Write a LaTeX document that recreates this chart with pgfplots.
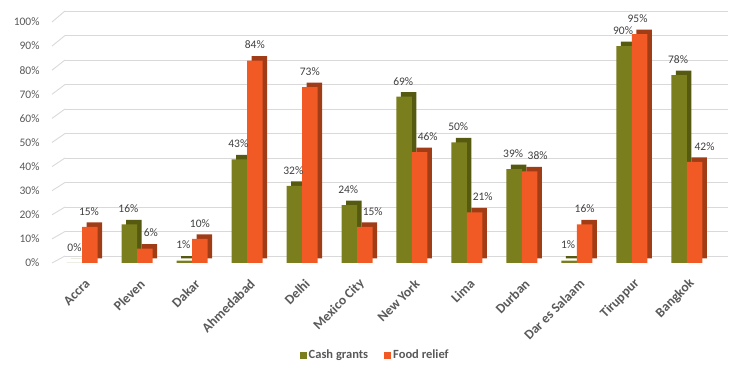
\documentclass[border=0pt]{standalone}
\usepackage{pgfplots}
\pgfplotsset{compat=1.18}
\usepackage{pgfplotstable}
\usepackage{fontspec}
\setmainfont{Carlito}
\definecolor{cgreen}{HTML}{7B7E1D}
\definecolor{cgreenD}{HTML}{565A10}
\definecolor{corange}{HTML}{F15A24}
\definecolor{corangeD}{HTML}{A03C16}
\definecolor{gridc}{HTML}{D9D9D9}
\definecolor{txt}{HTML}{595959}
\definecolor{lbl}{HTML}{404040}
\pgfplotstableread{
x cash food dxc dxf
0 0 15 0 -1
1 16 6 -1 6
2 1 10 -1 0
3 43 84 -1 0
4 32 73 -1 0
5 24 15 -1 8
6 69 46 -1 8
7 50 21 -1 8
8 39 38 -1 8
9 1 16 -1 0
10 90 95 -1 -2
11 78 42 -1 10
}\datatable
\begin{document}
\begin{tikzpicture}[x=1pt,y=1pt]
\useasboundingbox (0,0) rectangle (734,379);
% back grid
\begin{axis}[
  at={(65pt,123pt)}, anchor=south west,
  scale only axis, width=663pt, height=245pt,
  xmin=0, xmax=1, ymin=0, ymax=100,
  ytick={0,10,...,100}, xtick=\empty,
  yticklabels={}, major tick length=0pt,
  ymajorgrids, grid style={gridc, line width=0.9pt},
  axis line style={draw=none},
]
\addplot[draw=none] coordinates {(0,0)};
\end{axis}
\foreach \v in {0,...,10} {
  \draw[gridc, line width=0.9pt] (52,{116+2.41*\v*10}) -- (65,{123+2.45*\v*10});
}
% bars
\begin{axis}[
  at={(52pt,116pt)}, anchor=south west,
  scale only axis, width=665pt, height=241pt,
  xmin=-0.55, xmax=11.55, ymin=0, ymax=100,
  clip=false,
  ybar, bar width=15.5pt,
  axis line style={draw=none},
  major tick length=0pt,
  ytick={0,10,...,100},
  yticklabel={\pgfmathprintnumber{\tick}\%},
  /pgf/number format/assume math mode=true,
  yticklabel style={font=\fontsize{11.5}{13}\selectfont, text=txt, xshift=-9pt},
  xtick=data,
  xticklabels={Accra,Pleven,Dakar,Ahmedabad,Delhi,Mexico City,New York,Lima,Durban,Dar es Salaam,Tiruppur,Bangkok},
  xticklabel style={font=\fontsize{13.5}{15}\selectfont\bfseries, text=txt, rotate=45, anchor=east, yshift=-17pt, xshift=-6pt},
  every node near coord/.append style={font=\fontsize{11.5}{13}\selectfont, text=lbl, yshift=8pt},
  legend style={at={(0.486,-0.382)}, anchor=center, draw=none, legend columns=2,
    font=\fontsize{12.5}{14}\selectfont\bfseries, text=txt,
    /tikz/every even column/.append style={column sep=14pt}},
  legend image code/.code={\fill[#1] (0pt,-3.5pt) rectangle (7pt,3.5pt);},
]
\addplot[fill=cgreenD, draw=none, bar shift=-7.75pt, xshift=4.5pt, yshift=4.5pt, forget plot] table[x=x,y=cash] {\datatable};
\addplot[fill=cgreen, draw=none, bar shift=-7.75pt] table[x=x,y=cash] {\datatable};
\addlegendentry{Cash grants}
\addplot[fill=corangeD, draw=none, bar shift=7.75pt, xshift=4.5pt, yshift=4.5pt, forget plot] table[x=x,y=food] {\datatable};
\addplot[fill=corange, draw=none, bar shift=7.75pt] table[x=x,y=food] {\datatable};
\addlegendentry{Food relief}
% data labels
\addplot[draw=none, fill=none, bar shift=-7.75pt, forget plot,
  visualization depends on={\thisrow{dxc} \as \dx},
  nodes near coords={\pgfmathprintnumber{\pgfplotspointmeta}\%},
  every node near coord/.append style={xshift=\dx pt}] table[x=x,y=cash] {\datatable};
\addplot[draw=none, fill=none, bar shift=7.75pt, forget plot,
  visualization depends on={\thisrow{dxf} \as \dx},
  nodes near coords={\pgfmathprintnumber{\pgfplotspointmeta}\%},
  every node near coord/.append style={xshift=\dx pt}] table[x=x,y=food] {\datatable};
\end{axis}
\end{tikzpicture}
\end{document}
